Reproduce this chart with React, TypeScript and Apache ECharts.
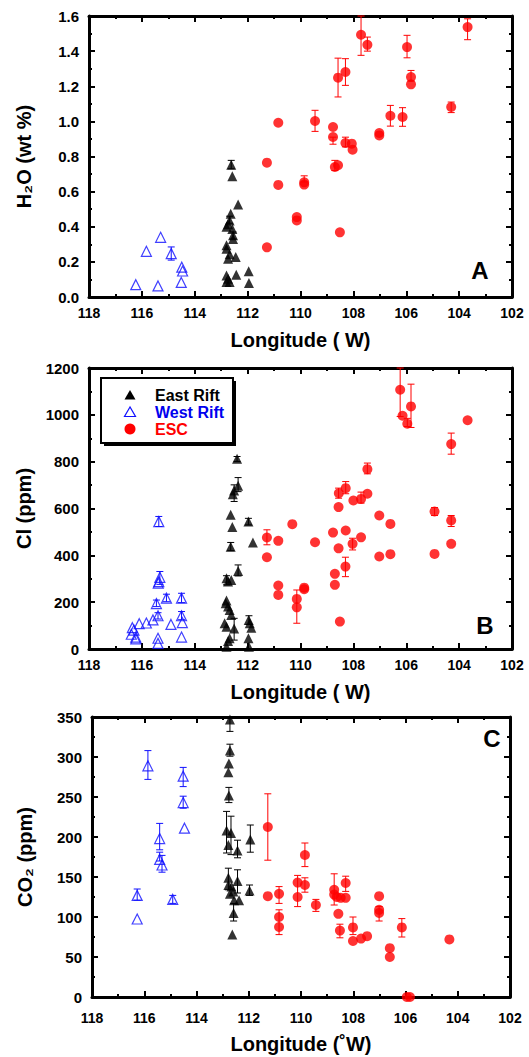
import React, { useEffect, useRef } from "react";
import * as echarts from "echarts";

// ---------- data ----------
const xTicks = [118, 116, 114, 112, 110, 108, 106, 104, 102];

const westA = [[116.23,0.07],[115.83,0.26],[115.39,0.063],[115.29,0.34],[114.89,0.247],[114.49,0.17],[114.46,0.148],[114.51,0.083]];
const eastA = [[112.62,0.753],[112.58,0.687],[112.36,0.527],[112.64,0.474],[112.68,0.436],[112.74,0.414],[112.8,0.40],[112.58,0.387],[112.55,0.351],[112.55,0.33],[112.8,0.294],[112.8,0.275],[112.74,0.218],[112.68,0.243],[112.45,0.228],[112.8,0.123],[112.74,0.104],[112.68,0.085],[112.8,0.085],[112.43,0.127],[111.96,0.146],[111.95,0.08]];
const escA = [[111.27,0.765],[110.84,0.992],[110.84,0.638],[111.27,0.283],[110.14,0.455],[110.14,0.436],[109.86,0.653],[109.86,0.64],[109.45,1.002],[108.77,0.968],[108.77,0.911],[108.7,0.74],[108.58,0.75],[108.51,0.368],[108.58,1.249],[108.3,1.281],[108.3,0.877],[108.06,0.873],[108.03,0.839],[107.71,1.493],[107.47,1.436],[107.02,0.934],[107.02,0.92],[106.6,1.032],[106.14,1.025],[105.97,1.423],[105.82,1.252],[105.82,1.211],[104.3,1.082],[103.68,1.537]];
const westErrA = [[114.89,0.21,0.285]];
const eastErrA = [[112.62,0.73,0.778],[112.68,0.42,0.46],[112.55,0.33,0.37]];
const escErrA = [[109.45,0.943,1.063],[108.58,1.139,1.36],[108.3,1.205,1.357],[107.71,1.376,1.6],[107.47,1.40,1.48],[106.6,0.973,1.091],[106.14,0.972,1.078],[105.97,1.362,1.49],[105.82,1.23,1.29],[104.3,1.05,1.11],[103.68,1.465,1.584],[108.77,0.87,0.91],[109.86,0.655,0.69],[108.7,0.72,0.778],[108.3,0.855,0.91]];

const westB = [[115.36,544],[115.36,288],[115.32,306],[115.38,281],[115.07,217],[115.45,194],[115.58,124],[115.39,142],[115.83,111],[116.1,108],[116.36,91],[116.4,63],[116.23,51],[116.23,43],[116.3,81],[114.9,105],[114.5,217],[114.5,142],[114.47,113],[114.5,51],[115.39,46],[115.39,24]];
const eastB = [[112.4,812],[112.36,697],[112.51,677],[112.56,661],[112.64,573],[112.58,521],[112.64,437],[112.36,333],[111.97,544],[111.8,455],[112.8,302],[112.74,288],[112.62,295],[112.8,207],[112.83,195],[112.74,181],[112.68,167],[112.62,145],[112.51,88],[112.87,110],[112.8,95],[112.68,46],[112.74,34],[112.8,10],[111.96,124],[111.92,110],[111.86,91],[111.97,46],[111.95,10]];
const escB = [[111.27,476],[111.27,392],[110.84,462],[110.84,271],[110.84,231],[110.31,533],[110.14,214],[110.14,178],[109.86,262],[109.86,255],[109.45,456],[108.77,497],[108.7,321],[108.7,274],[108.56,430],[108.56,606],[108.55,665],[108.51,117],[108.3,352],[108.29,506],[108.29,687],[108.03,449],[108.0,634],[107.71,477],[107.71,641],[107.47,663],[107.47,768],[107.02,570],[107.02,395],[106.6,534],[106.6,405],[106.23,1107],[106.14,996],[105.96,962],[105.82,1036],[104.93,587],[104.93,406],[104.3,875],[104.3,549],[104.3,449],[103.68,977]];
const westErrB = [[115.36,523,566],[115.32,276,331],[115.07,202,234],[114.5,198,238],[115.45,181,209],[114.5,125,160],[115.39,128,155]];
const eastErrB = [[112.4,801,822],[112.36,672,732],[112.51,630,701],[112.36,312,359],[111.97,530,558],[112.8,274,313],[112.51,38,131],[111.95,105,142],[112.64,420,455]];
const escErrB = [[111.27,445,509],[110.14,110,252],[106.23,993,1200],[105.82,946,1131],[104.3,832,922],[107.47,748,794],[108.29,663,715],[108.56,644,687],[108.3,309,392],[108.03,423,473],[107.71,623,670],[104.3,523,570],[104.93,570,604],[105.96,950,985]];

const westC = [[115.86,289],[116.27,127],[116.27,97.5],[115.41,198],[115.41,172],[115.32,165],[114.91,122],[114.51,276],[114.51,243],[114.46,211]];
const eastC = [[112.72,347],[112.72,308],[112.76,292],[112.78,281],[112.76,252],[112.85,208],[112.68,205],[112.78,190],[112.43,183],[111.94,197],[112.78,149],[112.43,145],[112.66,138],[112.59,132],[112.72,129],[112.56,121],[112.37,121],[112.58,105],[112.63,78],[111.97,133],[112.78,140]];
const escC = [[111.27,212.5],[111.27,126],[110.84,129],[110.84,100],[110.84,87.5],[110.13,143],[110.13,125],[109.85,177.5],[109.85,140],[109.43,115],[108.73,134],[108.73,128],[108.63,125],[108.29,142.5],[108.29,124],[108.48,124],[108.57,104],[108.51,83],[108.01,87],[108.01,70],[107.7,73],[107.47,76],[107.01,126],[107.01,109],[107.01,105],[106.6,61],[106.6,50],[106.14,87],[105.95,0],[105.83,0],[104.32,72]];
const westErrC = [[115.86,272,308],[116.27,121,135],[115.41,184,217],[115.41,170,181],[115.32,156,177],[114.51,263,287],[114.51,236,251],[114.91,117,127]];
const eastErrC = [[112.72,332,350],[112.72,301,316],[112.76,243,262],[112.85,180,232],[112.68,178,226],[112.43,174,196],[111.94,181,215],[112.78,134,161],[112.43,130,159],[112.58,95,117],[111.97,127,140]];
const escErrC = [[111.27,171,254],[110.84,117,138],[110.84,78,109],[110.13,113,152],[109.85,163,192.5],[109.85,131,149],[108.73,115,154],[108.29,132,151],[109.43,107,122],[108.51,74,91],[108.01,78,100],[106.14,75,98],[107.01,95,113]];

const seriesNames = ["East Rift", "West Rift", "ESC"];
const panelLetters = ["A", "B", "C"];

const FONT = "'Liberation Sans', Arial, Helvetica, sans-serif";
const BLUE = "#1010ff";
const RED = "#ff0000";

function axisLine() {
  return { show: true, onZero: false, lineStyle: { color: "#000", width: 3 } };
}
function ticks() {
  return { show: true, inside: true, length: 6, lineStyle: { color: "#000", width: 2 } };
}
function minor() {
  return { show: true, splitNumber: 2, length: 3, lineStyle: { color: "#000", width: 2 } };
}

function xAxes(g: number, name: string, margin: number, gap: number) {
  const base = {
    gridIndex: g, type: "value", min: xTicks[xTicks.length - 1], max: xTicks[0], interval: 2, inverse: true,
    axisLine: axisLine(), axisTick: ticks(), minorTick: minor(), splitLine: { show: false },
  };
  return [
    {
      ...base, position: "bottom",
      axisLabel: { show: true, margin, color: "#000", fontFamily: FONT, fontWeight: "bold", fontSize: 14 },
      name, nameLocation: "middle", nameGap: gap,
      nameTextStyle: { color: "#000", fontFamily: FONT, fontWeight: "bold", fontSize: 20 },
    },
    { ...base, position: "top", axisLabel: { show: false } },
  ];
}

function yAxes(g: number, max: number, interval: number, name: string, gap: number, fmt: (v: number) => string) {
  const base = {
    gridIndex: g, type: "value", min: 0, max, interval,
    axisLine: axisLine(), axisTick: ticks(), minorTick: minor(), splitLine: { show: false },
  };
  return [
    {
      ...base, position: "left",
      axisLabel: { show: true, margin: 10, color: "#000", fontFamily: FONT, fontWeight: "bold", fontSize: 15, formatter: fmt },
      name, nameLocation: "middle", nameGap: gap,
      nameTextStyle: { color: "#000", fontFamily: FONT, fontWeight: "bold", fontSize: 20 },
    },
    { ...base, position: "right", axisLabel: { show: false } },
  ];
}

function errSeries(g: number, data: number[][], color: string) {
  return {
    type: "custom", xAxisIndex: g, yAxisIndex: g, z: 1, silent: true, name: "err" + g + color,
    data, encode: { x: 0, y: [1, 2] },
    renderItem: (params: any, api: any) => {
      const x = api.value(0), lo = api.value(1), hi = api.value(2);
      const p1 = api.coord([x, hi]);
      const p2 = api.coord([x, lo]);
      const w = 3.5;
      const st = { stroke: color, lineWidth: 1 };
      return {
        type: "group",
        children: [
          { type: "line", shape: { x1: p1[0], y1: p1[1], x2: p2[0], y2: p2[1] }, style: st },
          { type: "line", shape: { x1: p1[0] - w, y1: p1[1], x2: p1[0] + w, y2: p1[1] }, style: st },
          { type: "line", shape: { x1: p2[0] - w, y1: p2[1], x2: p2[0] + w, y2: p2[1] }, style: st },
        ],
      };
    },
  };
}

function pointSeries(g: number, east: number[][], west: number[][], esc: number[][]) {
  return [
    { type: "scatter", name: seriesNames[0], xAxisIndex: g, yAxisIndex: g, data: east, symbol: "triangle", symbolSize: 10, itemStyle: { color: "#000" }, z: 3 },
    { type: "scatter", name: seriesNames[1], xAxisIndex: g, yAxisIndex: g, data: west, symbol: "triangle", symbolSize: 10, itemStyle: { color: "rgba(255,255,255,0)", borderColor: BLUE, borderWidth: 1.2 }, z: 3 },
    { type: "scatter", name: seriesNames[2], xAxisIndex: g, yAxisIndex: g, data: esc, symbol: "circle", symbolSize: 10, itemStyle: { color: RED }, z: 3 },
  ];
}

export default function App() {
  const ref = useRef<HTMLDivElement>(null);
  useEffect(() => {
    document.body.style.margin = "0";
    if (!ref.current) return;
    const chart = echarts.init(ref.current, null, { renderer: "svg" });
    const grids = [
      { left: 89, right: 17, top: 16, height: 281 },
      { left: 89, right: 17, top: 368, height: 281 },
      { left: 92, right: 19, top: 717, height: 280 },
    ];
    const xAxis = [
      ...xAxes(0, "Longitude ( W)", 9, 33),
      ...xAxes(1, "Longitude ( W)", 9, 33),
      ...xAxes(2, "Longitude (˚W)", 14, 37),
    ];
    const plain = (v: number) => String(v);
    const yAxis = [
      ...yAxes(0, 1.6, 0.2, "H₂O (wt %)", 55, (v: number) => v.toFixed(1)),
      ...yAxes(1, 1200, 200, "Cl (ppm)", 55, plain),
      ...yAxes(2, 350, 50, "CO₂ (ppm)", 57, plain),
    ];
    const xOrdered = [xAxis[0], xAxis[2], xAxis[4], xAxis[1], xAxis[3], xAxis[5]];
    const yOrdered = [yAxis[0], yAxis[2], yAxis[4], yAxis[1], yAxis[3], yAxis[5]];

    const series: any[] = [
      errSeries(0, eastErrA, "#000"), errSeries(0, westErrA, BLUE), errSeries(0, escErrA, RED),
      errSeries(1, eastErrB, "#000"), errSeries(1, westErrB, BLUE), errSeries(1, escErrB, RED),
      errSeries(2, eastErrC, "#000"), errSeries(2, westErrC, BLUE), errSeries(2, escErrC, RED),
      ...pointSeries(0, eastA, westA, escA),
      ...pointSeries(1, eastB, westB, escB),
      ...pointSeries(2, eastC, westC, escC),
    ];

    const letterStyle = { fill: "#000", font: `bold 24px ${FONT}` };
    const legFont = `bold 16px ${FONT}`;
    const lx = 101, ly = 378, lw = 132, lh = 65;
    const ix = 130, tx = 155, rows = [395, 412, 429];
    chart.setOption({
      animation: false,
      backgroundColor: "#fff",
      grid: grids,
      xAxis: xOrdered,
      yAxis: yOrdered,
      series,
      graphic: [
        { type: "rect", z: 10, shape: { x: lx + 3, y: ly + 3, width: lw, height: lh }, style: { fill: "#000" } },
        { type: "rect", z: 11, shape: { x: lx, y: ly, width: lw, height: lh }, style: { fill: "#fff", stroke: "#000", lineWidth: 2 } },
        { type: "polygon", z: 12, shape: { points: [[ix, rows[0] - 5], [ix - 5.5, rows[0] + 4.5], [ix + 5.5, rows[0] + 4.5]] }, style: { fill: "#000" } },
        { type: "polygon", z: 12, shape: { points: [[ix, rows[1] - 5], [ix - 5.5, rows[1] + 4.5], [ix + 5.5, rows[1] + 4.5]] }, style: { fill: "none", stroke: BLUE, lineWidth: 1.2 } },
        { type: "circle", z: 12, shape: { cx: ix, cy: rows[2], r: 5.5 }, style: { fill: RED } },
        { type: "text", z: 12, x: tx, y: rows[0], style: { text: seriesNames[0], fill: "#000", font: legFont, verticalAlign: "middle" } },
        { type: "text", z: 12, x: tx, y: rows[1], style: { text: seriesNames[1], fill: "#0000ee", font: legFont, verticalAlign: "middle" } },
        { type: "text", z: 12, x: tx, y: rows[2], style: { text: seriesNames[2], fill: RED, font: legFont, verticalAlign: "middle" } },
        { type: "text", z: 5, x: 480, y: 270, style: { ...letterStyle, text: panelLetters[0], align: "center", verticalAlign: "middle" } },
        { type: "text", z: 5, x: 485, y: 625, style: { ...letterStyle, text: panelLetters[1], align: "center", verticalAlign: "middle" } },
        { type: "text", z: 5, x: 492, y: 738, style: { ...letterStyle, text: panelLetters[2], align: "center", verticalAlign: "middle" } },
      ],
    });
    return () => chart.dispose();
  }, []);
  return <div ref={ref} style={{ width: 529, height: 1057 }} />;
}
